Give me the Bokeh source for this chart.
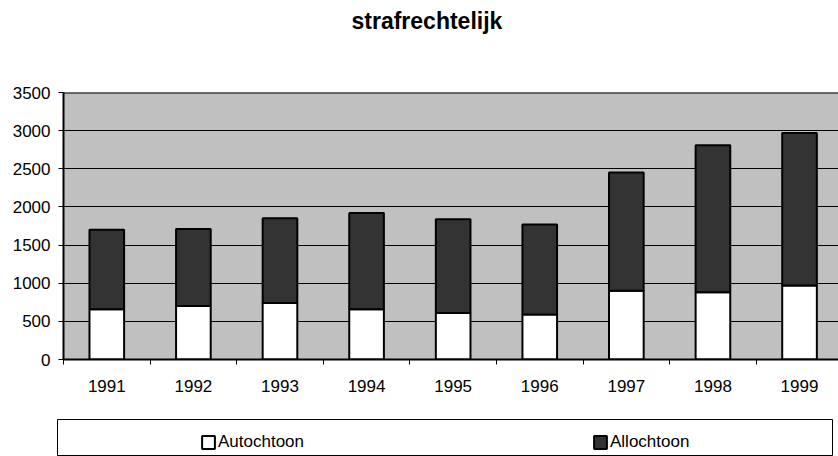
from bokeh.plotting import figure
from bokeh.models import (ColumnDataSource, Range1d, FixedTicker, Span, Legend, LegendItem, Title)
from bokeh.layouts import column, row
from bokeh.embed import file_html
from bokeh.resources import INLINE

# ---- data ----
years = ["1991", "1992", "1993", "1994", "1995", "1996", "1997", "1998", "1999"]
autochtoon = [660, 700, 740, 660, 610, 590, 900, 880, 970]
allochtoon = [1040, 1010, 1110, 1260, 1230, 1180, 1550, 1930, 2000]
y_ticks = [0, 500, 1000, 1500, 2000, 2500, 3000, 3500]
series = ["Autochtoon", "Allochtoon"]
colors = ["#FFFFFF", "#333333"]
title_text = "strafrechtelijk"

FONT = "Liberation Sans"
FS = "17px"

centers = [i + 0.5 for i in range(len(years))]
bounds = [i for i in range(len(years) + 1)]

src = ColumnDataSource(dict(x=centers, Autochtoon=autochtoon, Allochtoon=allochtoon))

p = figure(width=838, height=413, output_backend="svg", toolbar_location=None,
           title=None,
           x_range=Range1d(0, 8.95), y_range=Range1d(0, 3500),
           min_border_left=63, min_border_right=0, min_border_top=92, min_border_bottom=54,
           background_fill_color="#C0C0C0", border_fill_color="white")
p.outline_line_color = None

# spacer between frame and title, then the title itself
p.add_layout(Title(text=" ", text_font=FONT, text_font_size="46px", standoff=0), "above")
p.add_layout(Title(text=title_text, text_font=FONT, text_font_style="bold",
                   text_font_size="23px", text_color="black", align="left", offset=288),
             "above")

p.vbar_stack(series, x="x", width=0.4, source=src, fill_color=colors,
             line_color="black", line_width=2)

# axes
xa = p.xaxis[0]
xa.ticker = FixedTicker(ticks=centers, minor_ticks=bounds)
xa.major_label_overrides = {c: y for c, y in zip(centers, years)}
xa.major_tick_out = 0
xa.major_tick_in = 0
xa.minor_tick_out = 5
xa.minor_tick_in = 0
xa.minor_tick_line_color = "black"
xa.axis_line_width = 2
xa.axis_line_color = "black"
xa.major_label_text_font = FONT
xa.major_label_text_font_size = FS
xa.major_label_text_color = "black"
xa.major_label_standoff = 15

ya = p.yaxis[0]
ya.ticker = FixedTicker(ticks=y_ticks)
ya.major_tick_out = 5
ya.major_tick_in = 0
ya.minor_tick_line_color = None
ya.axis_line_width = 2
ya.axis_line_color = "black"
ya.major_tick_line_color = "black"
ya.major_label_text_font = FONT
ya.major_label_text_font_size = FS
ya.major_label_text_color = "black"
ya.major_label_standoff = 8

p.xgrid.visible = False
p.ygrid.ticker = FixedTicker(ticks=y_ticks)
p.ygrid.grid_line_color = "black"
p.ygrid.grid_line_width = 1

p.add_layout(Span(location=y_ticks[-1], dimension="width", line_color="black", line_width=2))

# ---- legend panel ----
p2 = figure(width=838, height=43, output_backend="svg", toolbar_location=None,
            x_range=Range1d(0, 1), y_range=Range1d(0, 1),
            x_axis_location=None, y_axis_location=None,
            min_border_left=57, min_border_right=6, min_border_top=6, min_border_bottom=0,
            background_fill_color="white", border_fill_color="white")
p2.grid.visible = False
p2.outline_line_color = "black"
p2.outline_line_width = 1

# legend proxies (kept outside the visible range of the legend panel)
proxy = ColumnDataSource(dict(x=[-5.0], top=[0.0]))
rs = [p2.vbar(x="x", top="top", width=0.4, source=proxy, fill_color=c,
              line_color="black", line_width=2) for c in colors]

legend = Legend(items=[LegendItem(label=s, renderers=[r]) for s, r in zip(series, rs)],
                orientation="horizontal", location=(143, 4), padding=0, margin=0,
                border_line_alpha=0, background_fill_alpha=0,
                glyph_width=16, glyph_height=16, label_standoff=2,
                label_width=100, spacing=274,
                label_text_font=FONT, label_text_font_size=FS,
                label_text_color="black")
p2.add_layout(legend, "center")

layout = column(p, row(p2), spacing=0)
open("out.html", "w").write(file_html(layout, INLINE))
